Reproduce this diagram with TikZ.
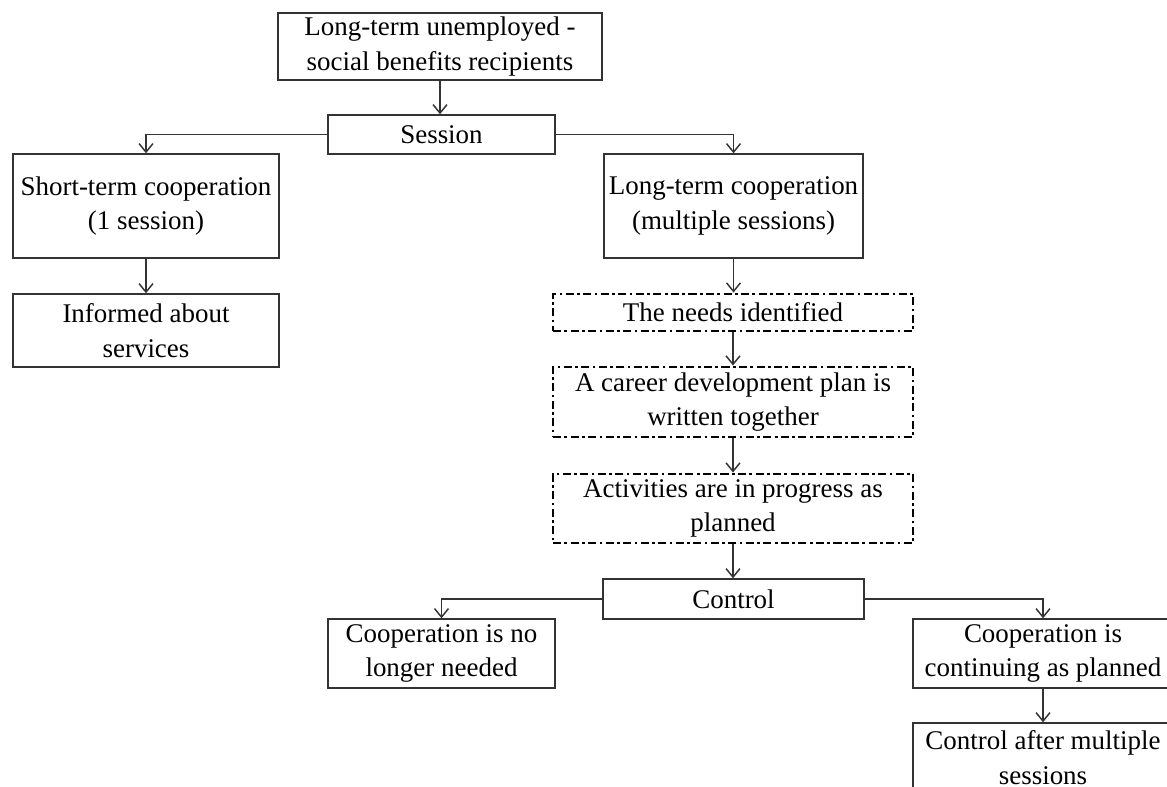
\documentclass[tikz,border=0pt]{standalone}
\usepackage{fontspec}
\setmainfont{Liberation Serif}
\usetikzlibrary{positioning,arrows.meta}
\definecolor{linegray}{HTML}{333333}
\newlength{\pxlen}
\setlength{\pxlen}{0.445pt}

\begin{document}
\begin{tikzpicture}[
  x=\pxlen, y=-\pxlen,
  sz/.style 2 args={minimum width=#1*\pxlen, minimum height=#2*\pxlen},
  box/.style={draw=linegray, line width=0.65pt, rectangle, align=center, inner sep=0pt,
    font=\fontsize{12}{15.5}\selectfont},
  dbox/.style={box, draw=black, line width=1.3pt, dash pattern=on 3.6pt off 1.5pt on 1.2pt off 1.5pt},
  arr/.style={draw=linegray, line width=0.65pt, -{Straight Barb[length=3.8pt,width=6.2pt]}},
]
\useasboundingbox (0,0) rectangle (1167,787);
\clip (0,0) rectangle (1167,787);

% first level
\node[box, sz={324}{67}] (top) at (440,46.5) {Long-term unemployed -\\social benefits recipients};
\node[box, sz={227}{39}] (session) at (441.5,134.5) {Session};
\node[box, sz={266}{104}] (short) at (146,206) {Short-term cooperation\\(1 session)};
\node[box, sz={266}{73}] (informed) at (146,330.5) {Informed about\\services};
\node[box, sz={259}{104}] (long) at (733.5,206) {Long-term cooperation\\(multiple sessions)};

% long-term path
\node[dbox, sz={360}{37}] (needs) at (733,312.5) {The needs identified};
\node[dbox, sz={360}{70}] (plan) at (733,402) {A career development plan is\\written together};
\node[dbox, sz={360}{69}] (progress) at (733,508.5) {Activities are in progress as\\planned};
\node[box, sz={261}{40}] (control) at (733.5,599) {Control};
\node[box, sz={227}{69}] (stop) at (441.5,653.5) {Cooperation is no\\longer needed};
\node[box, sz={260}{69}] (cont) at (1043,653.5) {Cooperation is\\continuing as planned};
\node[box, sz={260}{69}] (after) at (1043,757.5) {Control after multiple\\sessions};

\foreach \a/\b in {top/session, short/informed, long/needs, needs/plan, plan/progress, progress/control, cont/after}
  \draw[arr] (\a.south) -- (\a.south |- \b.north);
\foreach \a/\b in {session.west/short, session.east/long, control.west/stop, control.east/cont}
  \draw[arr] (\a) -| (\b.north);
\end{tikzpicture}
\end{document}
